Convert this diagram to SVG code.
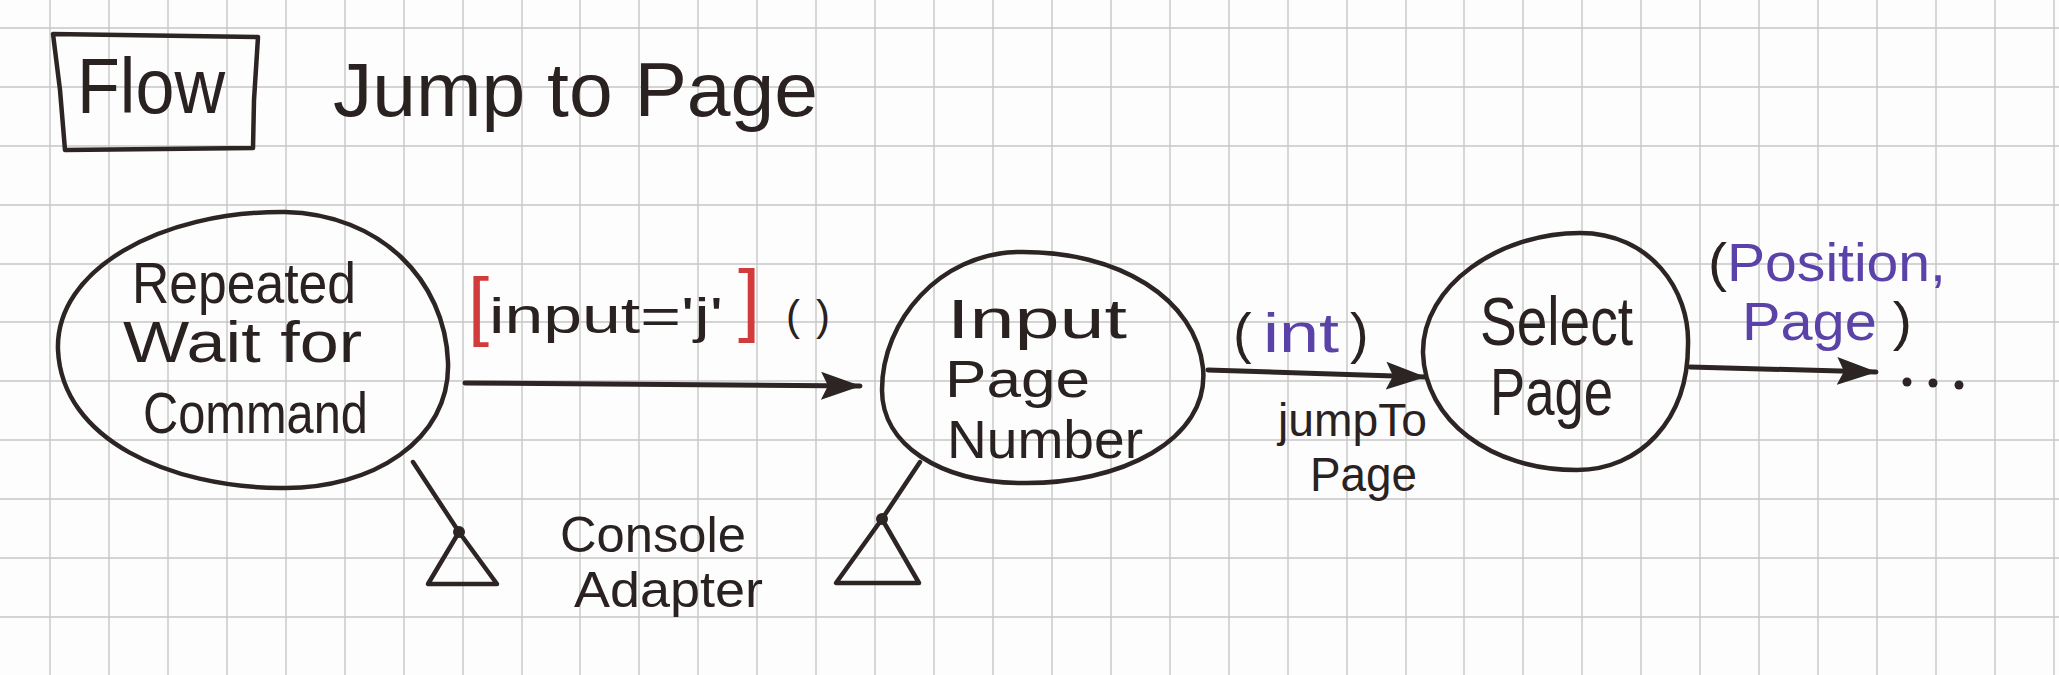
<svg xmlns="http://www.w3.org/2000/svg" width="2059" height="675" viewBox="0 0 2059 675">
<style>
.ink{fill:none;stroke:#2d2424;stroke-width:4.5;stroke-linecap:round;stroke-linejoin:round}
.conn{fill:none;stroke:#2d2424;stroke-width:5;stroke-linecap:round}
.t{font-family:"Liberation Sans","DejaVu Sans",sans-serif;fill:#2a2121}
.p{fill:#5a42a8}
.r{fill:#d23b3b}
.dot{fill:#2d2424}
.grid line{stroke:#c6c6c6;stroke-width:1.4}
</style>
<defs>
<marker id="ah" viewBox="0 0 40 32" refX="39" refY="16" markerWidth="40" markerHeight="32" markerUnits="userSpaceOnUse" orient="auto">
<path d="M0,2 L40,16 L0,30 L7,16 Z" fill="#2d2424"/>
</marker>
</defs>
<rect width="2059" height="675" fill="#fdfdfd"/>
<g class="grid">
<line x1="50" y1="0" x2="50" y2="675"/><line x1="109" y1="0" x2="109" y2="675"/><line x1="168" y1="0" x2="168" y2="675"/><line x1="227" y1="0" x2="227" y2="675"/><line x1="286" y1="0" x2="286" y2="675"/><line x1="345" y1="0" x2="345" y2="675"/><line x1="404" y1="0" x2="404" y2="675"/><line x1="463" y1="0" x2="463" y2="675"/><line x1="522" y1="0" x2="522" y2="675"/><line x1="580" y1="0" x2="580" y2="675"/><line x1="639" y1="0" x2="639" y2="675"/><line x1="698" y1="0" x2="698" y2="675"/><line x1="757" y1="0" x2="757" y2="675"/><line x1="816" y1="0" x2="816" y2="675"/><line x1="875" y1="0" x2="875" y2="675"/><line x1="934" y1="0" x2="934" y2="675"/><line x1="993" y1="0" x2="993" y2="675"/><line x1="1052" y1="0" x2="1052" y2="675"/><line x1="1111" y1="0" x2="1111" y2="675"/><line x1="1170" y1="0" x2="1170" y2="675"/><line x1="1229" y1="0" x2="1229" y2="675"/><line x1="1288" y1="0" x2="1288" y2="675"/><line x1="1347" y1="0" x2="1347" y2="675"/><line x1="1406" y1="0" x2="1406" y2="675"/><line x1="1464" y1="0" x2="1464" y2="675"/><line x1="1523" y1="0" x2="1523" y2="675"/><line x1="1582" y1="0" x2="1582" y2="675"/><line x1="1641" y1="0" x2="1641" y2="675"/><line x1="1700" y1="0" x2="1700" y2="675"/><line x1="1759" y1="0" x2="1759" y2="675"/><line x1="1818" y1="0" x2="1818" y2="675"/><line x1="1877" y1="0" x2="1877" y2="675"/><line x1="1936" y1="0" x2="1936" y2="675"/><line x1="1995" y1="0" x2="1995" y2="675"/><line x1="2054" y1="0" x2="2054" y2="675"/>
<line x1="0" y1="28" x2="2059" y2="28"/><line x1="0" y1="87" x2="2059" y2="87"/><line x1="0" y1="146" x2="2059" y2="146"/><line x1="0" y1="205" x2="2059" y2="205"/><line x1="0" y1="264" x2="2059" y2="264"/><line x1="0" y1="322" x2="2059" y2="322"/><line x1="0" y1="381" x2="2059" y2="381"/><line x1="0" y1="440" x2="2059" y2="440"/><line x1="0" y1="499" x2="2059" y2="499"/><line x1="0" y1="558" x2="2059" y2="558"/><line x1="0" y1="617" x2="2059" y2="617"/>
</g>
<g id="title">
<path class="ink" d="M53 34 L258 37 L254 100 L253 148 L160 149 L65 150 L60 90 Z"/>
<text class="t" x="77" y="113" font-size="78" textLength="148" lengthAdjust="spacingAndGlyphs">Flow</text>
<text class="t" x="333" y="116" font-size="76" textLength="485" lengthAdjust="spacingAndGlyphs">Jump to Page</text>
</g>
<g id="connectors">
<path class="conn" d="M465 383 L860 386" marker-end="url(#ah)"/>
<path class="conn" d="M1208 370 L1425 377" marker-end="url(#ah)"/>
<path class="conn" d="M1690 367 L1876 372" marker-end="url(#ah)"/>
</g>
<g id="label-input">
<text class="t" x="468" y="331" font-size="50"><tspan class="r" font-size="76">[</tspan><tspan x="489" y="333" textLength="234" lengthAdjust="spacingAndGlyphs">input='j'</tspan><tspan class="r" x="738" y="326" font-size="80">]</tspan><tspan x="786" y="330" font-size="42" textLength="44" lengthAdjust="spacing">()</tspan></text>
</g>
<g id="label-int">
<text class="t" x="1233" y="352" font-size="56">(<tspan class="p" x="1263" textLength="76" lengthAdjust="spacingAndGlyphs">int</tspan><tspan x="1350">)</tspan></text>
<text class="t" font-size="46"><tspan x="1278" y="436" textLength="149" lengthAdjust="spacingAndGlyphs">jumpTo</tspan><tspan x="1310" y="491" font-size="48" textLength="107" lengthAdjust="spacingAndGlyphs">Page</tspan></text>
</g>
<g id="label-position">
<text class="t" font-size="54"><tspan x="1708" y="281" textLength="238" lengthAdjust="spacingAndGlyphs">(<tspan class="p">Position,</tspan></tspan><tspan x="1742" y="340" textLength="170" lengthAdjust="spacingAndGlyphs"><tspan class="p">Page</tspan> )</tspan></text>
<circle class="dot" cx="1907" cy="382" r="4.5"/>
<circle class="dot" cx="1933" cy="383" r="4.5"/>
<circle class="dot" cx="1959" cy="385" r="4.5"/>
</g>
<g id="node-wait">
<path class="ink" d="M285 212 C380 214 445 280 448 362 C451 440 372 490 280 488 C170 487 62 440 58 350 C55 270 160 211 285 212 Z"/>
<text class="t" font-size="58"><tspan x="132" y="303" textLength="224" lengthAdjust="spacingAndGlyphs">Repeated</tspan><tspan x="123" y="362" textLength="239" lengthAdjust="spacingAndGlyphs">Wait for</tspan><tspan x="143" y="433" textLength="225" lengthAdjust="spacingAndGlyphs">Command</tspan></text>
</g>
<g id="adapter-wait">
<path class="ink" d="M413 462 L459 532"/>
<path class="ink" d="M459 532 L428 584 L497 584 Z"/>
<circle class="dot" cx="459" cy="532" r="6"/>
</g>
<g id="adapter-label">
<text class="t" font-size="50"><tspan x="560" y="552" textLength="186" lengthAdjust="spacingAndGlyphs">Console</tspan><tspan x="574" y="607" textLength="189" lengthAdjust="spacingAndGlyphs">Adapter</tspan></text>
</g>
<g id="node-input">
<path class="ink" d="M1017 252 C1120 250 1196 300 1203 368 C1210 440 1120 485 1020 483 C940 482 882 445 882 390 C882 320 940 254 1017 252 Z"/>
<text class="t"><tspan x="947" y="338" font-size="56" textLength="180" lengthAdjust="spacingAndGlyphs">Input</tspan><tspan x="945" y="397" font-size="52" textLength="145" lengthAdjust="spacingAndGlyphs">Page</tspan><tspan x="947" y="458" font-size="54" textLength="196" lengthAdjust="spacingAndGlyphs">Number</tspan></text>
</g>
<g id="adapter-input">
<path class="ink" d="M920 462 L882 519"/>
<path class="ink" d="M882 519 L836 583 L919 583 Z"/>
<circle class="dot" cx="882" cy="519" r="6"/>
</g>
<g id="node-select">
<path class="ink" d="M1580 233 C1650 233 1690 290 1688 345 C1688 420 1640 470 1577 470 C1490 470 1425 420 1423 353 C1422 285 1500 233 1580 233 Z"/>
<text class="t"><tspan x="1480" y="345" font-size="68" textLength="153" lengthAdjust="spacingAndGlyphs">Select</tspan><tspan x="1490" y="415" font-size="66" textLength="123" lengthAdjust="spacingAndGlyphs">Page</tspan></text>
</g>
</svg>
